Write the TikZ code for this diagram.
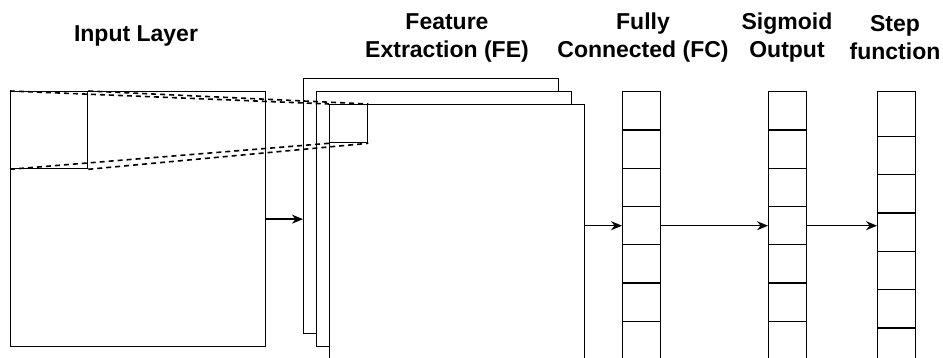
\documentclass[tikz,border=0pt]{standalone}
\usepackage{fontspec}
\setmainfont{Liberation Sans}
\usepackage{tikz}
\usetikzlibrary{arrows.meta,positioning,calc}
\tikzset{
  layer/.style={draw, line width=1.3pt, fill=white, inner sep=0pt, anchor=north west, minimum width=255pt, minimum height=255pt},
  field/.style={draw, line width=1.3pt, inner sep=0pt, anchor=north west},
  cell/.style={draw, line width=1.3pt, inner sep=0pt, anchor=north west, minimum width=38pt, minimum height=38.3pt},
  proj/.style={line width=1.6pt, dash pattern=on 5pt off 4pt},
  link/.style={-{Stealth[length=11pt,width=9pt]}, line width=1.3pt},
  title/.style={font=\bfseries\fontsize{23}{28}\selectfont, align=center}
}

\begin{document}
\begin{tikzpicture}[x=1pt, y=-1pt]
    \useasboundingbox (0,0) rectangle (943,358);
    \node[title] (tin) at (136,36) {Input Layer};
    \node[title] (tfe) at (447,38) {Feature\\Extraction (FE)};
    \node[title] (tfc) at (643,38) {Fully\\Connected (FC)};
    \node[title] (tsg) at (787,38) {Sigmoid\\Output};
    \node[title] (tst) at (895,38) {Step\\function};

    \node[layer] (in) at (10,91) {};
    \node[field, minimum size=77pt] (rf) at (10,91) {};

    \node[layer] (fe1) at (303,78) {};
    \node[layer] (fe2) at (316,91) {};
    \node[layer] (fe3) at (329,104) {};
    \node[field, minimum size=38pt] (rf2) at (329,104) {};

    \foreach \a in {north west, north east, south west, south east}
      \draw[proj] (rf.\a) -- (rf2.\a);

    \foreach \i in {1,...,7} {
      \node[cell] (fc\i) at (622,{91+(\i-1)*38.3}) {};
      \node[cell] (sg\i) at (768,{91+(\i-1)*38.3}) {};
    }
    \node[cell, minimum height=44.7pt] (st1) at (877,91) {};
    \foreach \i [count=\j from 2] in {1,...,6}
      \node[cell] (st\j) at (877,{135.7+(\i-1)*38.3}) {};

    \draw[link] (in.east) -- (in.east -| fe1.west);
    \draw[link] (fc4.west -| fe3.east) -- (fc4.west);
    \draw[link] (fc4.east) -- (sg4.west);
    \draw[link] (sg4.east) -- (sg4.east -| st4.west);
\end{tikzpicture}
\end{document}
